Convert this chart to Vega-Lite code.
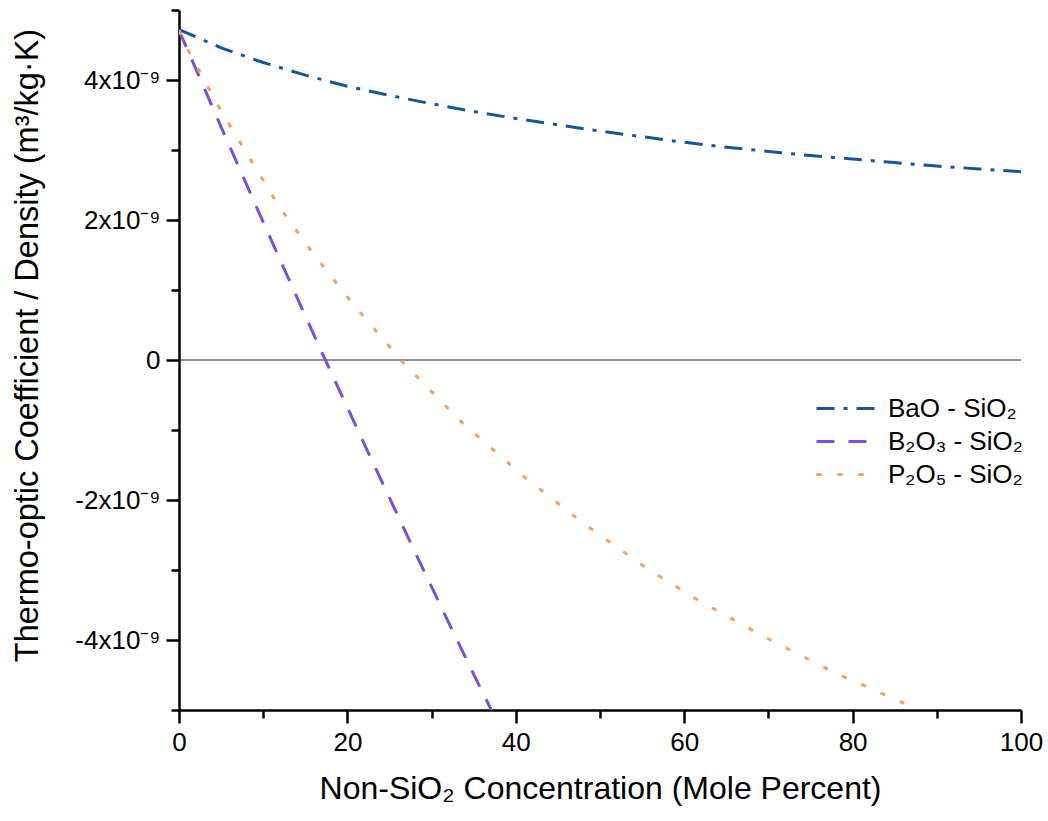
{
  "$schema": "https://vega.github.io/schema/vega-lite/v6.json",
  "width": 842,
  "height": 700,
  "autosize": {"type": "none"},
  "padding": {"left": 179, "top": 10, "right": 27, "bottom": 111},
  "background": "white",
  "config": {
    "view": {"stroke": null},
    "font": "Liberation Sans",
    "axis": {"grid": false, "labelColor": "#000", "titleColor": "#000", "labelFont": "Liberation Sans", "titleFont": "Liberation Sans"}
  },
  "layer": [
    {
      "data": {"values": [{"x0": 0, "x1": 100, "y": 0}]},
      "mark": {"type": "rule", "color": "#222222", "strokeWidth": 1},
      "encoding": {
        "x": {"field": "x0", "type": "quantitative", "axis": {"orient": "bottom", "values": [10, 30, 50, 70, 90], "labels": false, "domain": false, "tickSize": 8, "tickWidth": 2.5, "tickColor": "#000", "title": null}},
        "x2": {"field": "x1"},
        "y": {"field": "y", "type": "quantitative", "axis": {"orient": "left", "values": [-5e-9, -3e-9, -1e-9, 1e-9, 3e-9, 5e-9], "labels": false, "domain": false, "tickSize": 8, "tickWidth": 2.5, "tickColor": "#000", "title": null}}
      }
    },
    {
      "data": {"values": [
        {"series": "BaO - SiO₂", "conc": 0, "value": 4.72e-9},
        {"series": "BaO - SiO₂", "conc": 5, "value": 4.46e-9},
        {"series": "BaO - SiO₂", "conc": 10, "value": 4.25e-9},
        {"series": "BaO - SiO₂", "conc": 15, "value": 4.07e-9},
        {"series": "BaO - SiO₂", "conc": 20, "value": 3.91e-9},
        {"series": "BaO - SiO₂", "conc": 25, "value": 3.78e-9},
        {"series": "BaO - SiO₂", "conc": 30, "value": 3.66e-9},
        {"series": "BaO - SiO₂", "conc": 35, "value": 3.55e-9},
        {"series": "BaO - SiO₂", "conc": 40, "value": 3.45e-9},
        {"series": "BaO - SiO₂", "conc": 45, "value": 3.36e-9},
        {"series": "BaO - SiO₂", "conc": 50, "value": 3.27e-9},
        {"series": "BaO - SiO₂", "conc": 55, "value": 3.19e-9},
        {"series": "BaO - SiO₂", "conc": 60, "value": 3.11e-9},
        {"series": "BaO - SiO₂", "conc": 65, "value": 3.04e-9},
        {"series": "BaO - SiO₂", "conc": 70, "value": 2.98e-9},
        {"series": "BaO - SiO₂", "conc": 75, "value": 2.92e-9},
        {"series": "BaO - SiO₂", "conc": 80, "value": 2.87e-9},
        {"series": "BaO - SiO₂", "conc": 85, "value": 2.82e-9},
        {"series": "BaO - SiO₂", "conc": 90, "value": 2.77e-9},
        {"series": "BaO - SiO₂", "conc": 95, "value": 2.73e-9},
        {"series": "BaO - SiO₂", "conc": 100, "value": 2.69e-9},
        {"series": "B₂O₃ - SiO₂", "conc": 0, "value": 4.71e-9},
        {"series": "B₂O₃ - SiO₂", "conc": 2.5, "value": 4.02e-9},
        {"series": "B₂O₃ - SiO₂", "conc": 5, "value": 3.33e-9},
        {"series": "B₂O₃ - SiO₂", "conc": 7.5, "value": 2.65e-9},
        {"series": "B₂O₃ - SiO₂", "conc": 10, "value": 1.97e-9},
        {"series": "B₂O₃ - SiO₂", "conc": 12.5, "value": 1.30e-9},
        {"series": "B₂O₃ - SiO₂", "conc": 15, "value": 0.63e-9},
        {"series": "B₂O₃ - SiO₂", "conc": 17.5, "value": -0.03e-9},
        {"series": "B₂O₃ - SiO₂", "conc": 20, "value": -0.68e-9},
        {"series": "B₂O₃ - SiO₂", "conc": 22.5, "value": -1.33e-9},
        {"series": "B₂O₃ - SiO₂", "conc": 25, "value": -1.97e-9},
        {"series": "B₂O₃ - SiO₂", "conc": 27.5, "value": -2.61e-9},
        {"series": "B₂O₃ - SiO₂", "conc": 30, "value": -3.24e-9},
        {"series": "B₂O₃ - SiO₂", "conc": 32.5, "value": -3.87e-9},
        {"series": "B₂O₃ - SiO₂", "conc": 35, "value": -4.49e-9},
        {"series": "B₂O₃ - SiO₂", "conc": 37.3, "value": -5.05e-9},
        {"series": "P₂O₅ - SiO₂", "conc": 0, "value": 4.71e-9},
        {"series": "P₂O₅ - SiO₂", "conc": 1.2, "value": 4.40e-9},
        {"series": "P₂O₅ - SiO₂", "conc": 4.7, "value": 3.62e-9},
        {"series": "P₂O₅ - SiO₂", "conc": 8.3, "value": 2.90e-9},
        {"series": "P₂O₅ - SiO₂", "conc": 12, "value": 2.17e-9},
        {"series": "P₂O₅ - SiO₂", "conc": 16.2, "value": 1.48e-9},
        {"series": "P₂O₅ - SiO₂", "conc": 20.6, "value": 0.81e-9},
        {"series": "P₂O₅ - SiO₂", "conc": 26.7, "value": -0.05e-9},
        {"series": "P₂O₅ - SiO₂", "conc": 33.5, "value": -0.88e-9},
        {"series": "P₂O₅ - SiO₂", "conc": 41, "value": -1.67e-9},
        {"series": "P₂O₅ - SiO₂", "conc": 48, "value": -2.33e-9},
        {"series": "P₂O₅ - SiO₂", "conc": 55.6, "value": -2.98e-9},
        {"series": "P₂O₅ - SiO₂", "conc": 61.5, "value": -3.42e-9},
        {"series": "P₂O₅ - SiO₂", "conc": 69.6, "value": -3.96e-9},
        {"series": "P₂O₅ - SiO₂", "conc": 78.1, "value": -4.48e-9},
        {"series": "P₂O₅ - SiO₂", "conc": 86.8, "value": -4.94e-9},
        {"series": "P₂O₅ - SiO₂", "conc": 87.8, "value": -5.02e-9}
      ]},
      "mark": {"type": "line", "strokeWidth": 3, "clip": true},
      "encoding": {
        "x": {
          "field": "conc", "type": "quantitative",
          "scale": {"domain": [0, 100], "nice": false, "zero": false},
          "axis": {"orient": "bottom", "values": [0, 20, 40, 60, 80, 100], "tickSize": 13, "tickWidth": 2.5, "tickColor": "#000", "domainColor": "#000", "domainWidth": 2.5, "labelFontSize": 26, "labelPadding": 6, "labelFlush": false, "title": "Non-SiO₂ Concentration (Mole Percent)", "titleFontSize": 32, "titleFontWeight": "normal", "titlePadding": 18}
        },
        "y": {
          "field": "value", "type": "quantitative",
          "scale": {"domain": [-5e-9, 5e-9], "nice": false, "zero": false},
          "axis": {"orient": "left", "values": [-4e-9, -2e-9, 0, 2e-9, 4e-9], "labelExpr": "datum.value == 0 ? '0' : round(datum.value * 1e9) + 'x10⁻⁹'", "tickSize": 13, "tickWidth": 2.5, "tickColor": "#000", "domainColor": "#000", "domainWidth": 2.5, "labelFontSize": 26, "labelPadding": 6, "labelFlush": false, "title": "Thermo-optic Coefficient / Density (m³/kg·K)", "titleFontSize": 32.5, "titleFontWeight": "normal", "titlePadding": 30, "titleY": 335}
        },
        "color": {
          "field": "series", "type": "nominal",
          "scale": {"domain": ["BaO - SiO₂", "B₂O₃ - SiO₂", "P₂O₅ - SiO₂"], "range": ["#16549e", "#7a4fdc", "#f0a262"]},
          "legend": {"orient": "none", "legendX": 651, "legendY": 382, "title": null, "padding": 0, "labelFontSize": 26, "labelColor": "#000", "symbolType": "M-2,0H2", "symbolSize": 900, "symbolStrokeWidth": 3, "labelOffset": 25, "rowPadding": 3}
        },
        "strokeDash": {
          "field": "series", "type": "nominal",
          "scale": {"domain": ["BaO - SiO₂", "B₂O₃ - SiO₂", "P₂O₅ - SiO₂"], "range": [[18, 9, 4, 9], [18, 14], [5, 16]]},
          "legend": {"orient": "none", "legendX": 651, "legendY": 382, "title": null, "padding": 0, "labelFontSize": 26, "labelColor": "#000", "symbolType": "M-2,0H2", "symbolSize": 900, "symbolStrokeWidth": 3, "labelOffset": 25, "rowPadding": 3}
        },
        "order": {"field": "conc", "type": "quantitative"}
      }
    }
  ],
  "resolve": {"axis": {"x": "independent", "y": "independent"}}
}
